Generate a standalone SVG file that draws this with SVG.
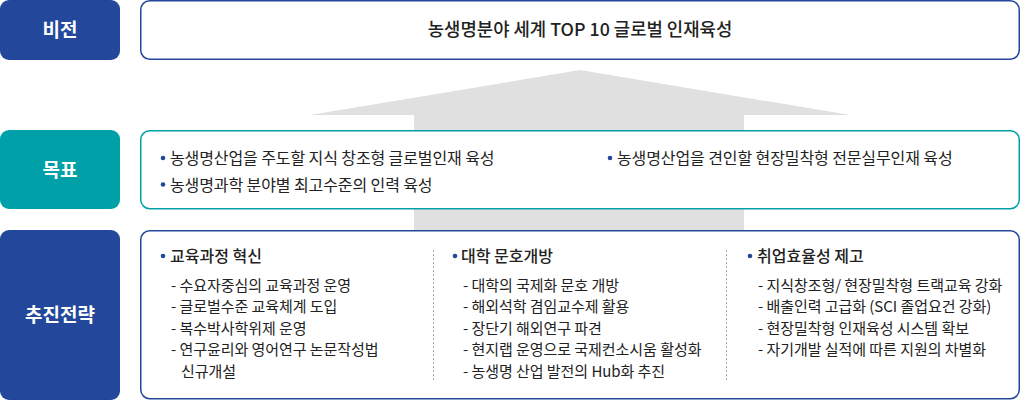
<svg xmlns="http://www.w3.org/2000/svg" width="1020" height="400" viewBox="0 0 1020 400">
<style>
text{font-family:"Noto Sans CJK KR","Noto Sans",sans-serif;fill:#222}
.lbl{fill:#fff;font-size:19px;font-weight:700;text-anchor:middle}
.blue{fill:#23489b}
.teal{fill:#00a0a8}
.box{fill:#fff;stroke-width:1.5}
.bb{stroke:#23489b}
.tb{stroke:#00a0a8}
.goal{font-size:16px;letter-spacing:-0.1px}
.head{font-size:16px;font-weight:500}
.item{font-size:15px;letter-spacing:-0.05px}
.dot{fill:#23489b}
.div{stroke:#a8a8a8;stroke-width:1;stroke-dasharray:2 2}
</style>
<g id="connectors">
<path d="M580 70 L850 115 L744 115 L744 231 L414 231 L414 115 L310 115 Z" fill="#e0e0e0"/>
</g>
<g id="vision-label">
<rect class="blue" x="0" y="0" width="120" height="60" rx="9"/>
<text class="lbl" x="60" y="36.5">비전</text>
</g>
<g id="vision">
<rect class="box bb" x="140.75" y="0.75" width="878.5" height="58.5" rx="9"/>
<text x="580" y="36" font-size="17.8" font-weight="500" text-anchor="middle">농생명분야 세계 TOP 10 글로벌 인재육성</text>
</g>
<g id="goal-label">
<rect class="teal" x="0" y="130" width="120" height="79" rx="9"/>
<text class="lbl" x="60" y="176.5">목표</text>
</g>
<g id="goal">
<rect class="box tb" x="140.75" y="130.75" width="878.5" height="78" rx="9"/>
<circle class="dot" cx="163" cy="158" r="2.3"/>
<text class="goal" x="170" y="164">농생명산업을 주도할 지식 창조형 글로벌인재 육성</text>
<circle class="dot" cx="163" cy="184.5" r="2.3"/>
<text class="goal" x="170" y="190.5">농생명과학 분야별 최고수준의 인력 육성</text>
<circle class="dot" cx="610" cy="158" r="2.3"/>
<text class="goal" x="617" y="164">농생명산업을 견인할 현장밀착형 전문실무인재 육성</text>
</g>
<g id="strategy-label">
<rect class="blue" x="0" y="230" width="120" height="170" rx="9"/>
<text class="lbl" x="60" y="321.5">추진전략</text>
</g>
<g id="strategy">
<rect class="box bb" x="140.75" y="230.75" width="878.5" height="168" rx="9"/>
<line class="div" x1="433.5" y1="250" x2="433.5" y2="381"/>
<line class="div" x1="726.5" y1="250" x2="726.5" y2="381"/>
<circle class="dot" cx="163" cy="256" r="2.3"/>
<text class="head" x="170" y="262">교육과정 혁신</text>
<text class="item" x="171" y="290.5">- 수요자중심의 교육과정 운영</text>
<text class="item" x="171" y="312">- 글로벌수준 교육체계 도입</text>
<text class="item" x="171" y="333.5">- 복수박사학위제 운영</text>
<text class="item" x="171" y="355">- 연구윤리와 영어연구 논문작성법</text>
<text class="item" x="181" y="376.5">신규개설</text>
<circle class="dot" cx="455" cy="256" r="2.3"/>
<text class="head" x="461" y="262">대학 문호개방</text>
<text class="item" x="463" y="290.5">- 대학의 국제화 문호 개방</text>
<text class="item" x="463" y="312">- 해외석학 겸임교수제 활용</text>
<text class="item" x="463" y="333.5">- 장단기 해외연구 파견</text>
<text class="item" x="463" y="355">- 현지랩 운영으로 국제컨소시움 활성화</text>
<text class="item" x="463" y="376.5">- 농생명 산업 발전의 Hub화 추진</text>
<circle class="dot" cx="750" cy="256" r="2.3"/>
<text class="head" x="757" y="262">취업효율성 제고</text>
<text class="item" x="758" y="290.5">- 지식창조형/ 현장밀착형 트랙교육 강화</text>
<text class="item" x="758" y="312">- 배출인력 고급화 (SCI 졸업요건 강화)</text>
<text class="item" x="758" y="333.5">- 현장밀착형 인재육성 시스템 확보</text>
<text class="item" x="758" y="355">- 자기개발 실적에 따른 지원의 차별화</text>
</g>
</svg>
